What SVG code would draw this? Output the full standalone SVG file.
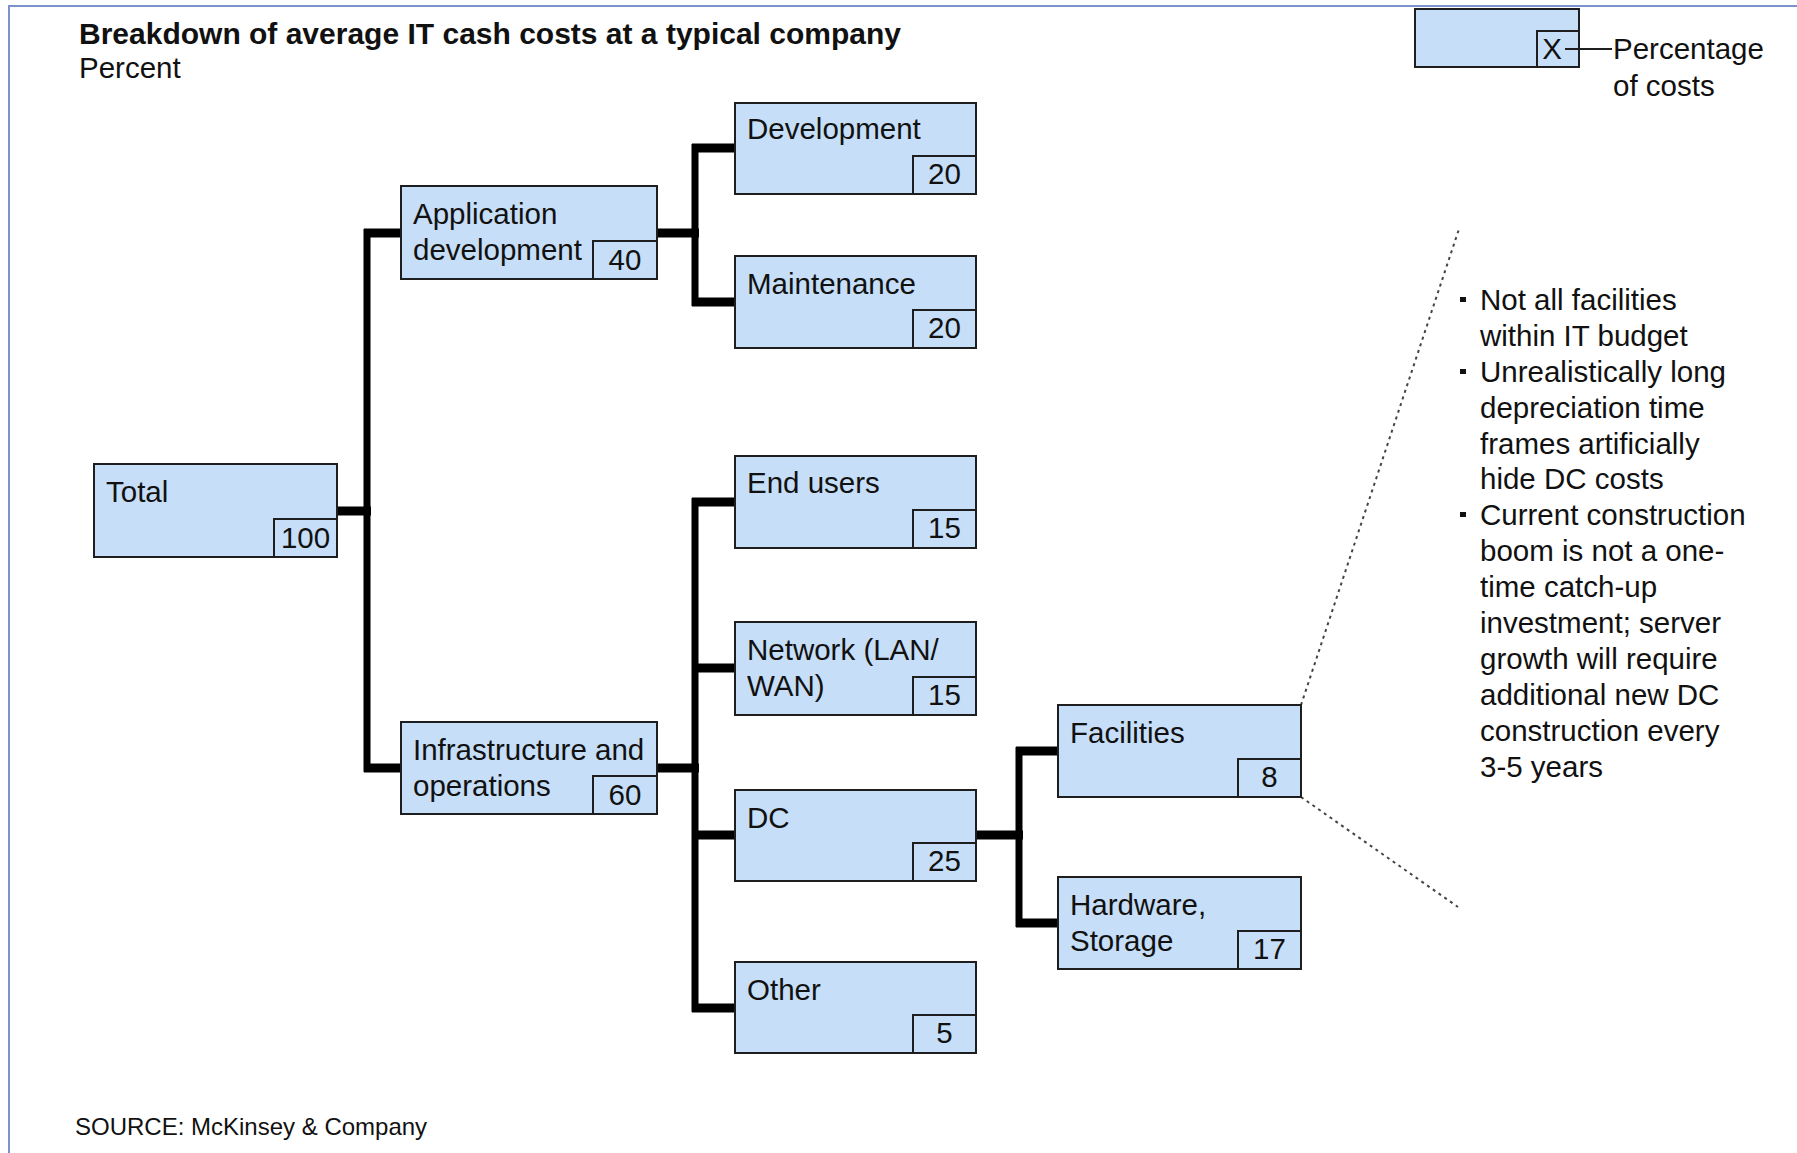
<svg xmlns="http://www.w3.org/2000/svg" width="1797" height="1153" viewBox="0 0 1797 1153">
<style>
.bg{fill:#ffffff}
.frame{stroke:#7b93cb;stroke-width:2;fill:none}
.box{fill:#c6def7;stroke:#1e1e1e;stroke-width:2}
.val{fill:none;stroke:#1e1e1e;stroke-width:2}
.t{font-family:"Liberation Sans",Arial,sans-serif;font-size:29.5px;fill:#111111}
.v{font-family:"Liberation Sans",Arial,sans-serif;font-size:29.5px;fill:#111111;text-anchor:middle}
.title{font-family:"Liberation Sans",Arial,sans-serif;font-size:30px;font-weight:bold;fill:#111111}
.src{font-family:"Liberation Sans",Arial,sans-serif;font-size:24px;fill:#111111}
.h{stroke:#000000;stroke-width:9}
.vt{stroke:#000000;stroke-width:7}
.dash{stroke:#444444;stroke-width:2;stroke-dasharray:3 4;fill:none}
.lead{stroke:#1e1e1e;stroke-width:2}
.bul{fill:#111111}
</style>
<rect class="bg" x="0" y="0" width="1797" height="1153"/>
<path class="frame" d="M9,1153 V6 H1797"/>

<g id="title">
<text class="title" x="79" y="44">Breakdown of average IT cash costs at a typical company</text>
<text class="t" x="79" y="78">Percent</text>
</g>

<g id="legend">
<rect class="box" x="1415" y="9" width="164" height="58"/>
<rect class="val" x="1537" y="31" width="42" height="36"/>
<text class="v" x="1552" y="59">X</text>
<line class="lead" x1="1565" y1="49" x2="1612" y2="49"/>
<text class="t" x="1613" y="59">Percentage</text>
<text class="t" x="1613" y="96">of costs</text>
</g>

<g id="connectors">
<line class="h" x1="337" y1="511" x2="371" y2="511"/>
<line class="vt" x1="367" y1="229" x2="367" y2="772"/>
<line class="h" x1="364" y1="233" x2="401" y2="233"/>
<line class="h" x1="364" y1="768" x2="401" y2="768"/>

<line class="h" x1="657" y1="233" x2="699" y2="233"/>
<line class="vt" x1="695" y1="144" x2="695" y2="306"/>
<line class="h" x1="692" y1="148" x2="735" y2="148"/>
<line class="h" x1="692" y1="302" x2="735" y2="302"/>

<line class="h" x1="657" y1="768" x2="699" y2="768"/>
<line class="vt" x1="695" y1="498" x2="695" y2="1012"/>
<line class="h" x1="692" y1="502" x2="735" y2="502"/>
<line class="h" x1="692" y1="668" x2="735" y2="668"/>
<line class="h" x1="692" y1="835" x2="735" y2="835"/>
<line class="h" x1="692" y1="1008" x2="735" y2="1008"/>

<line class="h" x1="976" y1="835" x2="1023" y2="835"/>
<line class="vt" x1="1019" y1="747" x2="1019" y2="927"/>
<line class="h" x1="1016" y1="751" x2="1058" y2="751"/>
<line class="h" x1="1016" y1="923" x2="1058" y2="923"/>

<line class="dash" x1="1301" y1="705" x2="1459" y2="229"/>
<line class="dash" x1="1301" y1="797" x2="1458" y2="907"/>
</g>

<g id="node-total">
<rect class="box" x="94" y="464" width="243" height="93"/>
<rect class="val" x="274" y="519" width="63" height="38"/>
<text class="t" x="106" y="502">Total</text>
<text class="v" x="305.5" y="548">100</text>
</g>

<g id="node-appdev">
<rect class="box" x="401" y="186" width="256" height="93"/>
<rect class="val" x="593" y="241" width="64" height="38"/>
<text class="t" x="413" y="224">Application</text>
<text class="t" x="413" y="260">development</text>
<text class="v" x="625" y="270">40</text>
</g>

<g id="node-infra">
<rect class="box" x="401" y="722" width="256" height="92"/>
<rect class="val" x="593" y="776" width="64" height="38"/>
<text class="t" x="413" y="760">Infrastructure and</text>
<text class="t" x="413" y="796">operations</text>
<text class="v" x="625" y="805">60</text>
</g>

<g id="node-development">
<rect class="box" x="735" y="103" width="241" height="91"/>
<rect class="val" x="913" y="156" width="63" height="38"/>
<text class="t" x="747" y="139">Development</text>
<text class="v" x="944.5" y="184">20</text>
</g>

<g id="node-maintenance">
<rect class="box" x="735" y="256" width="241" height="92"/>
<rect class="val" x="913" y="310" width="63" height="38"/>
<text class="t" x="747" y="294">Maintenance</text>
<text class="v" x="944.5" y="338">20</text>
</g>

<g id="node-endusers">
<rect class="box" x="735" y="456" width="241" height="92"/>
<rect class="val" x="913" y="510" width="63" height="38"/>
<text class="t" x="747" y="493">End users</text>
<text class="v" x="944.5" y="538">15</text>
</g>

<g id="node-network">
<rect class="box" x="735" y="622" width="241" height="93"/>
<rect class="val" x="913" y="677" width="63" height="38"/>
<text class="t" x="747" y="660">Network (LAN/</text>
<text class="t" x="747" y="696">WAN)</text>
<text class="v" x="944.5" y="705">15</text>
</g>

<g id="node-dc">
<rect class="box" x="735" y="790" width="241" height="91"/>
<rect class="val" x="913" y="843" width="63" height="38"/>
<text class="t" x="747" y="828">DC</text>
<text class="v" x="944.5" y="871">25</text>
</g>

<g id="node-other">
<rect class="box" x="735" y="962" width="241" height="91"/>
<rect class="val" x="913" y="1015" width="63" height="38"/>
<text class="t" x="747" y="1000">Other</text>
<text class="v" x="944.5" y="1043">5</text>
</g>

<g id="node-facilities">
<rect class="box" x="1058" y="705" width="243" height="92"/>
<rect class="val" x="1238" y="759" width="63" height="38"/>
<text class="t" x="1070" y="743">Facilities</text>
<text class="v" x="1269.5" y="787">8</text>
</g>

<g id="node-hardware">
<rect class="box" x="1058" y="877" width="243" height="92"/>
<rect class="val" x="1238" y="931" width="63" height="38"/>
<text class="t" x="1070" y="915">Hardware,</text>
<text class="t" x="1070" y="951">Storage</text>
<text class="v" x="1269.5" y="959">17</text>
</g>

<g id="note">
<rect class="bul" x="1460" y="297" width="6" height="5"/>
<rect class="bul" x="1460" y="369" width="6" height="5"/>
<rect class="bul" x="1460" y="512" width="6" height="5"/>
<text class="t" x="1480" y="310">Not all facilities</text>
<text class="t" x="1480" y="346">within IT budget</text>
<text class="t" x="1480" y="382">Unrealistically long</text>
<text class="t" x="1480" y="418">depreciation time</text>
<text class="t" x="1480" y="454">frames artificially</text>
<text class="t" x="1480" y="489">hide DC costs</text>
<text class="t" x="1480" y="525">Current construction</text>
<text class="t" x="1480" y="561">boom is not a one-</text>
<text class="t" x="1480" y="597">time catch-up</text>
<text class="t" x="1480" y="633">investment; server</text>
<text class="t" x="1480" y="669">growth will require</text>
<text class="t" x="1480" y="705">additional new DC</text>
<text class="t" x="1480" y="741">construction every</text>
<text class="t" x="1480" y="777">3-5 years</text>
</g>

<text class="src" x="75" y="1135">SOURCE: McKinsey &amp; Company</text>
</svg>
